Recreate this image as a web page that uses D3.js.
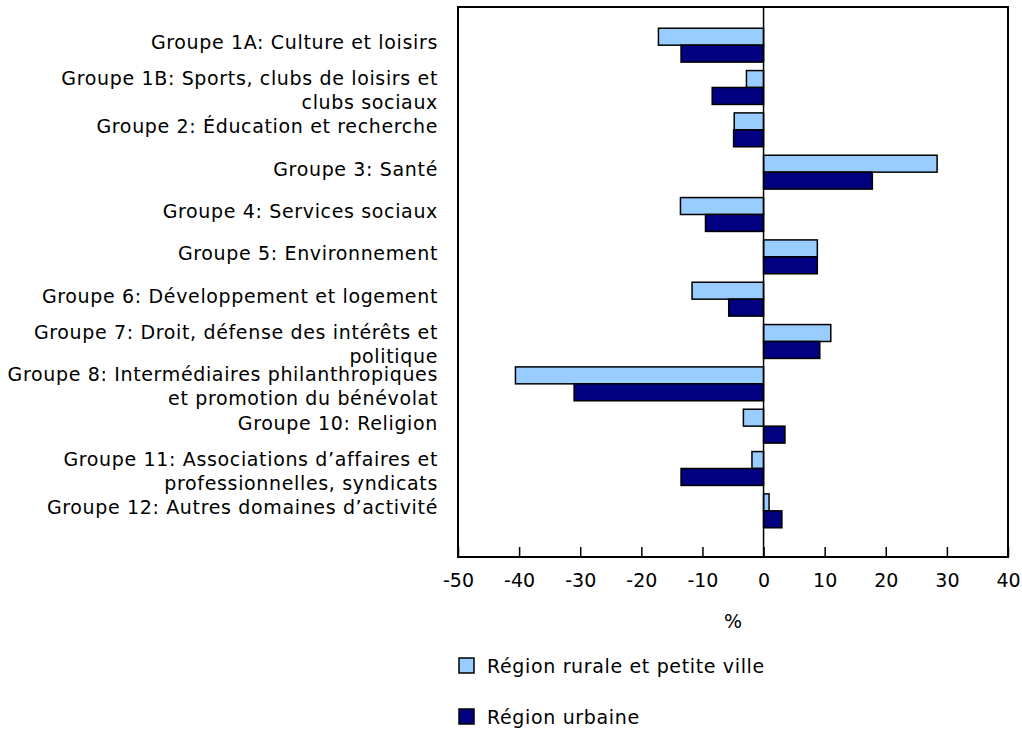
<!DOCTYPE html>
<html>
<head>
<meta charset="utf-8">
<script src="https://cdn.jsdelivr.net/npm/d3@7"></script>
<style>
  body { margin: 0; background: #fff; }
  svg { display: block; }
  text { font-family: "DejaVu Sans", Verdana, sans-serif; fill: #000; }
</style>
</head>
<body>
<svg id="chart" width="1022" height="729"></svg>
<script>
const categories = [
  "Groupe 1A: Culture et loisirs",
  "Groupe 1B: Sports, clubs de loisirs et\nclubs sociaux",
  "Groupe 2: Éducation et recherche",
  "Groupe 3: Santé",
  "Groupe 4: Services sociaux",
  "Groupe 5: Environnement",
  "Groupe 6: Développement et logement",
  "Groupe 7: Droit, défense des intérêts et\npolitique",
  "Groupe 8: Intermédiaires philanthropiques\net promotion du bénévolat",
  "Groupe 10: Religion",
  "Groupe 11: Associations d’affaires et\nprofessionnelles, syndicats",
  "Groupe 12: Autres domaines d’activité"
];
const seriesNames = ["Région rurale et petite ville", "Région urbaine"];
const rural = [-17.2, -2.8, -4.8, 28.4, -13.6, 8.8, -11.7, 11.0, -40.6, -3.3, -1.9, 0.9];
const urban = [-13.5, -8.4, -4.9, 17.8, -9.5, 8.8, -5.7, 9.2, -31.0, 3.5, -13.5, 3.0];
const xTicks = [-50, -40, -30, -20, -10, 0, 10, 20, 30, 40];
const xTitle = "%";
const colors = ["#99ccff", "#000080"];

const FS = 19, LS = "0.65px";
const svg = d3.select("#chart");
const mLeft = 458, mRight = 1008, mTop = 7, mBottom = 557;

const x = d3.scaleLinear().domain([-50, 40]).range([mLeft, mRight]);
const y = d3.scaleBand().domain(categories).range([24, 532]).paddingInner(0.2).paddingOuter(0.1);
const ys = d3.scaleBand().domain([0, 1]).range([0, y.bandwidth()]);

const data = categories.map((c, i) => ({cat: c, vals: [rural[i], urban[i]]}));

// bars
const g = svg.append("g");
data.forEach(d => {
  d.vals.forEach((v, s) => {
    g.append("rect")
      .attr("x", x(Math.min(0, v)))
      .attr("y", y(d.cat) + ys(s))
      .attr("width", Math.abs(x(v) - x(0)))
      .attr("height", ys.bandwidth())
      .attr("fill", colors[s])
      .attr("stroke", "#000")
      .attr("stroke-width", 1.5);
  });
});

// zero line
svg.append("line")
  .attr("x1", x(0)).attr("x2", x(0))
  .attr("y1", mTop).attr("y2", mBottom)
  .attr("stroke", "#000").attr("stroke-width", 1.5);

// frame
svg.append("rect")
  .attr("x", mLeft).attr("y", mTop)
  .attr("width", mRight - mLeft).attr("height", mBottom - mTop)
  .attr("fill", "none").attr("stroke", "#000").attr("stroke-width", 2);

// x axis
const xAxis = d3.axisBottom(x).tickValues(xTicks).tickSize(-10).tickPadding(17).tickFormat(d => String(d));
const ax = svg.append("g").attr("transform", `translate(0,${mBottom})`).call(xAxis);
ax.select(".domain").remove();
ax.selectAll(".tick line").attr("stroke", "#000").attr("stroke-width", 1.5);
ax.selectAll(".tick text").attr("font-size", FS).style("font-family", '"DejaVu Sans", Verdana, sans-serif').attr("fill", "#000");

svg.append("text")
  .attr("x", (x(-50) + x(40)) / 2)
  .attr("y", 621)
  .attr("dy", "0.35em")
  .attr("text-anchor", "middle")
  .attr("font-size", FS)
  .text(xTitle);

// category labels
data.forEach(d => {
  const lines = d.cat.split("\n");
  const c = y(d.cat) + y.bandwidth() / 2;
  const t = svg.append("text")
    .attr("text-anchor", "end")
    .attr("font-size", FS)
    .style("letter-spacing", LS);
  lines.forEach((ln, i) => {
    const yy = lines.length === 1 ? c - 3 : c - 9.5 + i * 24;
    t.append("tspan").attr("x", 438).attr("y", yy).attr("dy", "0.35em").text(ln);
  });
});

// legend
seriesNames.forEach((n, i) => {
  const ly = 658 + i * 51;
  svg.append("rect")
    .attr("x", 459).attr("y", ly)
    .attr("width", 15).attr("height", 15)
    .attr("fill", colors[i]).attr("stroke", "#000").attr("stroke-width", 1.5);
  svg.append("text")
    .attr("x", 487).attr("y", ly + 8)
    .attr("dy", "0.35em")
    .attr("font-size", FS)
    .style("letter-spacing", LS)
    .text(n);
});
</script>
</body>
</html>
